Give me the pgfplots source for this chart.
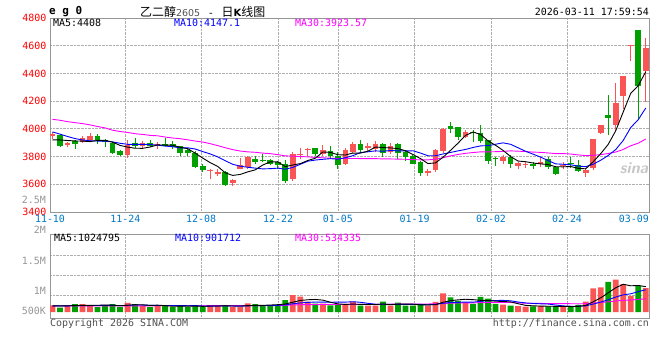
\documentclass[border=0pt]{standalone}
\usepackage{fontspec}
\usepackage{pgfplots}
\pgfplotsset{compat=1.18}
\usepackage{pgfplotstable}
\setmonofont{DejaVu Sans Mono}
\newfontfamily\cjk{Noto Sans CJK SC}
\newfontfamily\dejasans{DejaVu Sans}
\definecolor{kred}{RGB}{250,85,85}
\definecolor{kgreen}{RGB}{0,160,0}
\definecolor{tblue}{RGB}{0,120,200}
\definecolor{mag}{RGB}{255,0,255}
\definecolor{bordergray}{RGB}{150,150,150}
\definecolor{gridgray}{RGB}{175,175,175}
\definecolor{lblgray}{RGB}{150,150,150}
\definecolor{txtgray}{RGB}{80,80,80}

\pgfplotstableread{
i o h l c
0 3945 3975 3930 3962
2 3886 3907 3869 3898
4 3907 3952 3898 3931
5 3917 3967 3910 3945
10 3812 3917 3790 3886
12 3874 3912 3860 3900
14 3876 3902 3855 3888
21 3695 3707 3636 3702
22 3671 3707 3660 3690
24 3612 3640 3588 3631
25 3712 3790 3707 3738
26 3726 3802 3707 3795
32 3636 3831 3624 3821
33 3814 3860 3779 3821
34 3848 3860 3802 3855
36 3819 3881 3802 3850
39 3748 3860 3740 3845
40 3831 3902 3826 3888
42 3862 3898 3838 3874
43 3855 3910 3831 3888
45 3831 3898 3821 3874
50 3679 3707 3660 3695
51 3702 3855 3690 3850
52 3838 4005 3826 4002
55 3940 3993 3933 3976
60 3770 3811 3746 3794
62 3734 3763 3710 3751
63 3737 3763 3715 3744
65 3746 3794 3727 3763
68 3732 3763 3708 3739
71 3679 3715 3655 3703
72 3715 3930 3703 3930
73 3971 4031 3966 4031
75 4031 4332 3990 4189
76 4234 4382 4145 4382
77 4595 4605 4492 4605
79 4416 4655 4193 4583
}\redtab

\pgfplotstableread{
i o h l c
1 3957 3964 3867 3874
3 3910 3917 3857 3893
6 3945 3960 3890 3917
7 3917 3926 3869 3902
8 3898 3902 3819 3826
9 3843 3850 3807 3812
11 3898 3931 3862 3874
13 3898 3919 3867 3874
15 3888 3933 3874 3879
16 3888 3910 3855 3869
17 3874 3879 3802 3824
18 3848 3855 3802 3826
19 3826 3838 3717 3726
20 3731 3743 3688 3702
23 3690 3695 3588 3595
27 3783 3802 3750 3762
28 3778 3819 3762 3771
29 3776 3783 3736 3743
30 3762 3767 3707 3738
31 3743 3774 3612 3624
35 3860 3864 3802 3819
37 3838 3874 3783 3807
38 3807 3833 3712 3736
41 3888 3917 3826 3850
44 3888 3898 3798 3826
46 3888 3898 3786 3826
47 3831 3850 3767 3798
48 3802 3814 3743 3750
49 3760 3767 3660 3679
53 4021 4052 3969 3998
54 4010 4017 3921 3940
56 3976 3993 3902 3969
57 3969 4029 3898 3914
58 3917 3921 3750 3767
59 3787 3799 3732 3780
61 3794 3811 3715 3746
64 3746 3763 3710 3732
66 3784 3794 3713 3722
67 3722 3732 3667 3674
69 3751 3794 3715 3744
70 3739 3775 3691 3698
74 4102 4241 3954 4079
78 4712 4712 4067 4306
}\greentab

\pgfplotstableread{
i m5 m10 m30
0 3921 3978 4069
1 3920 3962 4062
2 3916 3945 4052
3 3913 3930 4045
4 3911.6 3920 4038
5 3908.2 3914 4029
6 3916.8 3912 4017
7 3917.6 3911 4007
8 3904.2 3906 3990
9 3880.4 3896.0 3981
10 3868.6 3888.4 3974
11 3860.0 3888.4 3965
12 3859.6 3888.6 3960
13 3869.2 3886.7 3953
14 3884.4 3882.4 3950
15 3883.0 3875.8 3941
16 3882.0 3871.0 3934
17 3866.8 3863.2 3929
18 3857.2 3863.2 3921
19 3824.8 3854.6 3912
20 3789.4 3836.2 3905
21 3756.0 3819.0 3893
22 3729.2 3798.0 3879
23 3683.0 3770.1 3864
24 3664.0 3744.4 3850
25 3671.2 3730.3 3840
26 3689.8 3722.9 3834
27 3704.2 3716.7 3831
28 3739.4 3711.2 3825
29 3761.8 3712.9 3821.2
30 3761.8 3716.5 3813.7
31 3727.6 3708.7 3805.4
32 3739.4 3721.8 3802.8
33 3749.4 3744.4 3800.4
34 3771.8 3766.8 3797.9
35 3788.0 3774.9 3793.7
36 3833.2 3780.4 3791.4
37 3830.4 3784.9 3788.3
38 3813.4 3781.4 3785.3
39 3811.4 3791.6 3786.4
40 3825.2 3806.6 3786.4
41 3825.2 3829.2 3785.6
42 3838.6 3834.5 3784.8
43 3869.0 3841.2 3785.2
44 3865.2 3838.3 3783.2
45 3862.4 3843.8 3783.0
46 3857.6 3841.4 3781.6
47 3842.4 3840.5 3780.7
48 3814.8 3841.9 3778.2
49 3785.4 3825.3 3776.6
50 3749.6 3806.0 3776.4
51 3754.4 3806.0 3781.3
52 3795.2 3818.8 3791.7
53 3844.8 3829.8 3805.1
54 3897.0 3841.2 3815.4
55 3953.2 3851.4 3823.4
56 3977.0 3865.7 3829.2
57 3959.4 3877.3 3834.2
58 3913.2 3879.0 3834.1
59 3881.2 3889.1 3835.3
60 3844.8 3899.0 3837.2
61 3800.2 3888.6 3841.3
62 3767.6 3863.5 3838.9
63 3763.0 3838.1 3836.4
64 3753.4 3817.3 3832.3
65 3747.2 3796.0 3830.4
66 3742.4 3771.3 3826.1
67 3727.0 3747.3 3821.7
68 3726.0 3744.5 3821.8
69 3728.4 3740.9 3818.4
70 3715.4 3731.3 3812.1
71 3711.6 3727.0 3807.2
72 3762.8 3744.9 3809.1
73 3821.2 3773.6 3813.8
74 3888.2 3808.3 3822.3
75 3986.4 3850.9 3832.8
76 4122.2 3916.9 3851.3
77 4257.2 4010.0 3878.2
78 4312.2 4066.7 3896.7
79 4413.0 4150.6 3926.9
}\matab

% volumes in thousands of lots
\pgfplotstableread{
i v
0 270
2 255
4 324
5 270
10 365
12 245
14 255
21 270
22 270
24 200
25 200
26 352
32 688
33 621
34 418
36 337
39 300
40 418
42 263
43 263
45 263
50 260
51 410
52 752
55 380
60 300
62 240
63 220
65 250
68 200
71 420
72 960
73 1000
75 1310
76 1125
77 650
79 970
}\volred

\pgfplotstableread{
i v
1 175
3 324
6 200
7 270
8 324
9 200
11 324
13 200
15 270
16 200
17 270
18 200
19 270
20 200
23 270
27 324
28 270
29 270
30 270
31 486
35 337
37 270
38 285
41 263
44 418
46 377
47 263
48 263
49 285
53 588
54 451
56 330
57 615
58 547
59 330
61 260
64 230
66 230
67 220
69 200
70 290
74 1222
78 1070
}\volgreen

\pgfplotstableread{
i m5 m10 m30
0 250 250 245
1 245 248 245
2 250 250 246
3 262 255 246
4 269.6 258 247
5 269.6 262 247
6 274.6 265 248
7 277.6 268 248
8 277.6 270 249
9 252.8 261.2 249
10 271.8 270.7 250
11 296.6 285.6 250
12 291.6 284.6 251
13 266.8 272.2 251
14 277.8 265.3 252
15 258.8 265.3 252
16 234.0 265.3 253
17 239.0 265.3 253
18 239.0 252.9 254
19 242.0 259.9 254
20 228.0 243.4 255
21 242.0 238.0 256
22 242.0 240.5 256
23 256.0 247.5 257
24 242.0 242.0 258
25 242.0 235.0 258
26 258.4 250.2 259
27 269.2 255.6 260
28 269.2 262.6 260
29 283.2 262.6 261.2
30 297.2 269.6 261.2
31 324.0 291.2 271.6
32 396.8 333.0 286.0
33 467.0 368.1 295.9
34 496.6 389.9 299.1
35 510.0 403.6 301.3
36 480.2 402.1 305.9
37 396.6 396.7 305.9
38 329.4 398.2 304.6
39 305.8 401.2 307.9
40 322.0 416.0 309.7
41 307.2 393.7 307.6
42 305.8 351.2 308.2
43 301.4 315.4 310.3
44 325.0 315.4 315.8
45 294.0 308.0 315.5
46 316.8 312.0 321.4
47 316.8 311.3 321.2
48 316.8 309.1 323.3
49 290.2 307.6 323.8
50 289.6 291.8 325.8
51 296.2 306.5 330.5
52 394.0 355.4 346.5
53 459.0 387.9 357.1
54 492.2 391.2 365.5
55 516.2 402.9 371.5
56 500.2 398.2 370.8
57 472.8 433.4 380.5
58 464.6 461.8 389.7
59 440.4 466.3 391.7
60 424.4 470.3 392.7
61 410.4 455.3 385.2
62 335.4 404.1 370.2
63 270.0 367.3 356.9
64 250.0 345.2 350.6
65 240.0 332.2 347.7
66 234.0 322.2 344.1
67 230.0 282.7 342.5
68 226.0 248.0 339.6
69 220.0 235.0 336.3
70 228.0 234.0 332.0
71 266.0 250.0 337.3
72 414.0 322.0 360.5
73 574.0 400.0 385.1
74 778.4 499.2 411.9
75 982.4 605.2 446.8
76 1123.4 694.7 471.7
77 1061.4 737.7 484.6
78 1075.4 824.7 511.5
79 1025.0 901.7 534.3
}\vmatab

\pgfplotsset{
  kbase/.style={
    scale only axis, width=599bp,
    xmin=-0.333, xmax=79.43,
    axis line style={bordergray, line width=0.8bp},
    xmajorgrids, ymajorgrids,
    grid style={gridgray, densely dotted, line width=0.8bp},
    major tick length=0pt,
    xtick={9.69,19.78,30.03,38.01,48.23,58.39,68.51},
    tick label style={font=\ttfamily\fontsize{10}{10}\selectfont},
  },
  candle/.style 2 args={only marks, mark=*, mark size=0pt,
    mark options={draw=none, fill=none}, forget plot,
    error bars/.cd, y dir=plus, y explicit, error mark=none,
    error bar style={draw=#1, solid, line width=#2}},
}

\begin{document}
\begin{tikzpicture}[x=1bp,y=1bp]
\useasboundingbox (0,0) rectangle (660,-360);

% ---------------- price panel ----------------
\begin{axis}[kbase,
  at={(50bp,-18bp)}, anchor=north west, height=194bp,
  ymin=3400, ymax=4800,
  ytick={3400,3600,3800,4000,4200,4400,4600,4800},
  yticklabels={3400,3600,3800,4000,4200,4400,4600,4800},
  yticklabel style={text=red},
  xticklabels={11-24,12-08,12-22,01-05,01-19,02-02,02-24},
  xticklabel style={text=tblue},
  extra x ticks={-0.333,77.4},
  extra x tick labels={11-10,03-09},
  extra x tick style={grid=none, xticklabel style={text=tblue}},
]
% wicks
\addplot[candle={kred}{1bp}]
  table[x=i, y=l, y error plus expr=\thisrow{h}-\thisrow{l}] {\redtab};
\addplot[candle={kgreen}{1bp}]
  table[x=i, y=l, y error plus expr=\thisrow{h}-\thisrow{l}] {\greentab};
% bodies
\addplot[candle={kred}{5.7bp}]
  table[x=i, y=o, y error plus expr=\thisrow{c}-\thisrow{o}] {\redtab};
\addplot[candle={kgreen}{5.7bp}]
  table[x=i, y=c, y error plus expr=\thisrow{o}-\thisrow{c}] {\greentab};
% moving averages
\addplot[mag, line width=0.9bp, mark=none] table[x=i, y=m30] {\matab};
\addplot[blue, line width=0.9bp, mark=none] table[x=i, y=m10] {\matab};
\addplot[black, line width=0.9bp, mark=none] table[x=i, y=m5] {\matab};
\end{axis}

% ---------------- volume panel (thousands) ----------------
\begin{axis}[kbase,
  at={(50bp,-234bp)}, anchor=north west, height=84bp,
  ymin=-243, ymax=3159,
  ytick={688.5,1498.5,2308.5},
  yticklabels={},
  scaled y ticks=false,
  xticklabels={},
]
\addplot[ybar, bar width=5.8bp, bar shift=0pt, fill=kred, draw=none] table[x=i, y=v] {\volred};
\addplot[ybar, bar width=5.8bp, bar shift=0pt, fill=kgreen, draw=none] table[x=i, y=v] {\volgreen};
\addplot[mag, line width=0.9bp, mark=none] table[x=i, y=m30] {\vmatab};
\addplot[blue, line width=0.9bp, mark=none] table[x=i, y=m10] {\vmatab};
\addplot[black, line width=0.9bp, mark=none] table[x=i, y=m5] {\vmatab};
\end{axis}

% ---------------- texts ----------------
\begin{scope}[every node/.style={inner sep=0pt, font=\ttfamily\fontsize{10}{10}\selectfont}]
\node[anchor=west, font=\ttfamily\bfseries\fontsize{11}{11}\selectfont] at (49,-12) {e g 0};
\node[anchor=west] at (140,-12) {\cjk\fontsize{12}{12}\selectfont 乙二醇{\dejasans\color{txtgray}\fontsize{9.5}{10}\selectfont 2605}\hspace{9bp}{\dejasans\fontsize{10}{10}\selectfont -}\hspace{9bp}日{\dejasans\bfseries\fontsize{10}{10}\selectfont K}线图};
\node[anchor=east] at (649,-12) {2026-03-11 17:59:54};
\node[anchor=west] at (53,-23) {MA5:4408};
\node[anchor=west, text=blue] at (174,-23) {MA10:4147.1};
\node[anchor=west, text=mag] at (295,-23) {MA30:3923.57};
\node[anchor=east, text=lblgray] at (46,-200) {2.5M};
\node[anchor=east, text=lblgray] at (46,-230) {2M};
\node[anchor=east, text=lblgray] at (46,-261) {1.5M};
\node[anchor=east, text=lblgray] at (46,-291) {1M};
\node[anchor=east, text=lblgray] at (46,-311) {500K};
\node[anchor=west] at (54,-238) {MA5:1024795};
\node[anchor=west, text=blue] at (175,-238) {MA10:901712};
\node[anchor=west, text=mag] at (295,-238) {MA30:534335};
\node[anchor=west, text=txtgray] at (50,-324) {Copyright 2026 SINA.COM};
\node[anchor=east, text=txtgray] at (649,-324) {http://finance.sina.com.cn};
\node[text=gray!45, font=\sffamily\bfseries\itshape\fontsize{16}{16}\selectfont] at (634,-168) {sina};
\end{scope}
\end{tikzpicture}
\end{document}
